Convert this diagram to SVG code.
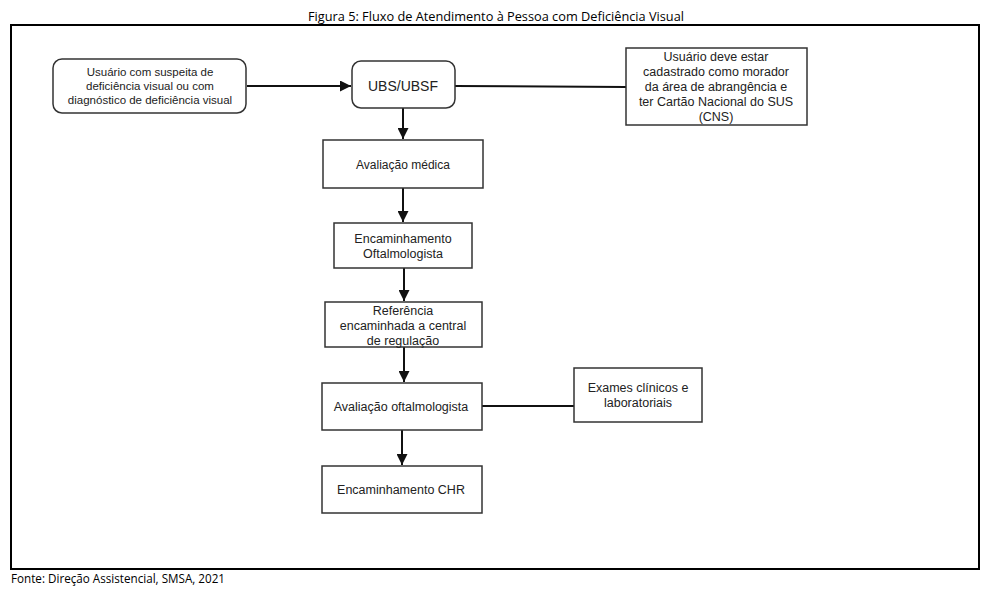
<svg xmlns="http://www.w3.org/2000/svg" width="987" height="597" viewBox="0 0 987 597">
<style>
.cap{font-family:"Open Sans","Liberation Sans",sans-serif;font-size:13px;fill:#000}
.box{fill:#fff;stroke:#333;stroke-width:1.5}
.t{font-family:"Liberation Sans",Arial,sans-serif;font-size:12.5px;fill:#222;text-anchor:middle}
.s{font-size:11.5px}
.b{font-size:14px}
.ln{stroke:#111;stroke-width:2;fill:none}
</style>
<defs>
<marker id="ah" viewBox="0 0 10 10" refX="10" refY="5" markerWidth="5.5" markerHeight="5.5" orient="auto" markerUnits="strokeWidth">
<path d="M0,0 L10,5 L0,10 Z" fill="#111"/>
</marker>
</defs>
<rect width="987" height="597" fill="#fff"/>
<text class="cap" x="308" y="21" textLength="376" lengthAdjust="spacingAndGlyphs">Figura 5: Fluxo de Atendimento à Pessoa com Deficiência Visual</text>
<rect x="11" y="25" width="968" height="544" fill="none" stroke="#000" stroke-width="2"/>
<text class="cap" x="11" y="583" textLength="214" lengthAdjust="spacingAndGlyphs">Fonte: Direção Assistencial, SMSA, 2021</text>

<g id="connectors">
<line class="ln" x1="247" y1="86" x2="351" y2="86" marker-end="url(#ah)"/>
<line class="ln" x1="455" y1="86" x2="626" y2="87"/>
<line class="ln" x1="403" y1="108" x2="403" y2="139" marker-end="url(#ah)"/>
<line class="ln" x1="403" y1="188" x2="403" y2="222" marker-end="url(#ah)"/>
<line class="ln" x1="404" y1="268" x2="404" y2="301" marker-end="url(#ah)"/>
<line class="ln" x1="404" y1="347" x2="404" y2="382" marker-end="url(#ah)"/>
<line class="ln" x1="482" y1="406" x2="574" y2="406"/>
<line class="ln" x1="402" y1="430" x2="402" y2="465" marker-end="url(#ah)"/>
</g>

<g id="n-usuario">
<rect class="box" x="53" y="59" width="193" height="54" rx="9"/>
<text class="t s" x="150" y="76">Usuário com suspeita de</text>
<text class="t s" x="150" y="90">deficiência visual ou com</text>
<text class="t s" x="150" y="104">diagnóstico de deficiência visual</text>
</g>

<g id="n-ubs">
<rect class="box" x="352" y="61" width="103" height="47" rx="9"/>
<text class="t b" x="403" y="91">UBS/UBSF</text>
</g>

<g id="n-cns">
<rect class="box" x="626" y="48" width="181" height="77"/>
<text class="t" x="716" y="61">Usuário deve estar</text>
<text class="t" x="716" y="76">cadastrado como morador</text>
<text class="t" x="716" y="91">da área de abrangência e</text>
<text class="t" x="716" y="106">ter Cartão Nacional do SUS</text>
<text class="t" x="716" y="121">(CNS)</text>
</g>

<g id="n-avmedica">
<rect class="box" x="323" y="140" width="160" height="48"/>
<text class="t" x="403" y="169" style="font-size:12px">Avaliação médica</text>
</g>

<g id="n-encoft">
<rect class="box" x="334" y="223" width="138" height="45"/>
<text class="t" x="403" y="243">Encaminhamento</text>
<text class="t" x="403" y="258">Oftalmologista</text>
</g>

<g id="n-ref">
<rect class="box" x="325" y="302" width="157" height="45"/>
<text class="t" x="403" y="315">Referência</text>
<text class="t" x="403" y="330">encaminhada a central</text>
<text class="t" x="403" y="345">de regulação</text>
</g>

<g id="n-avoft">
<rect class="box" x="322" y="383" width="160" height="47"/>
<text class="t" x="401" y="411">Avaliação oftalmologista</text>
</g>

<g id="n-exames">
<rect class="box" x="574" y="368" width="128" height="54"/>
<text class="t" x="638" y="392">Exames clínicos e</text>
<text class="t" x="638" y="407">laboratoriais</text>
</g>

<g id="n-chr">
<rect class="box" x="322" y="466" width="160" height="47"/>
<text class="t" x="401" y="494">Encaminhamento CHR</text>
</g>
</svg>
